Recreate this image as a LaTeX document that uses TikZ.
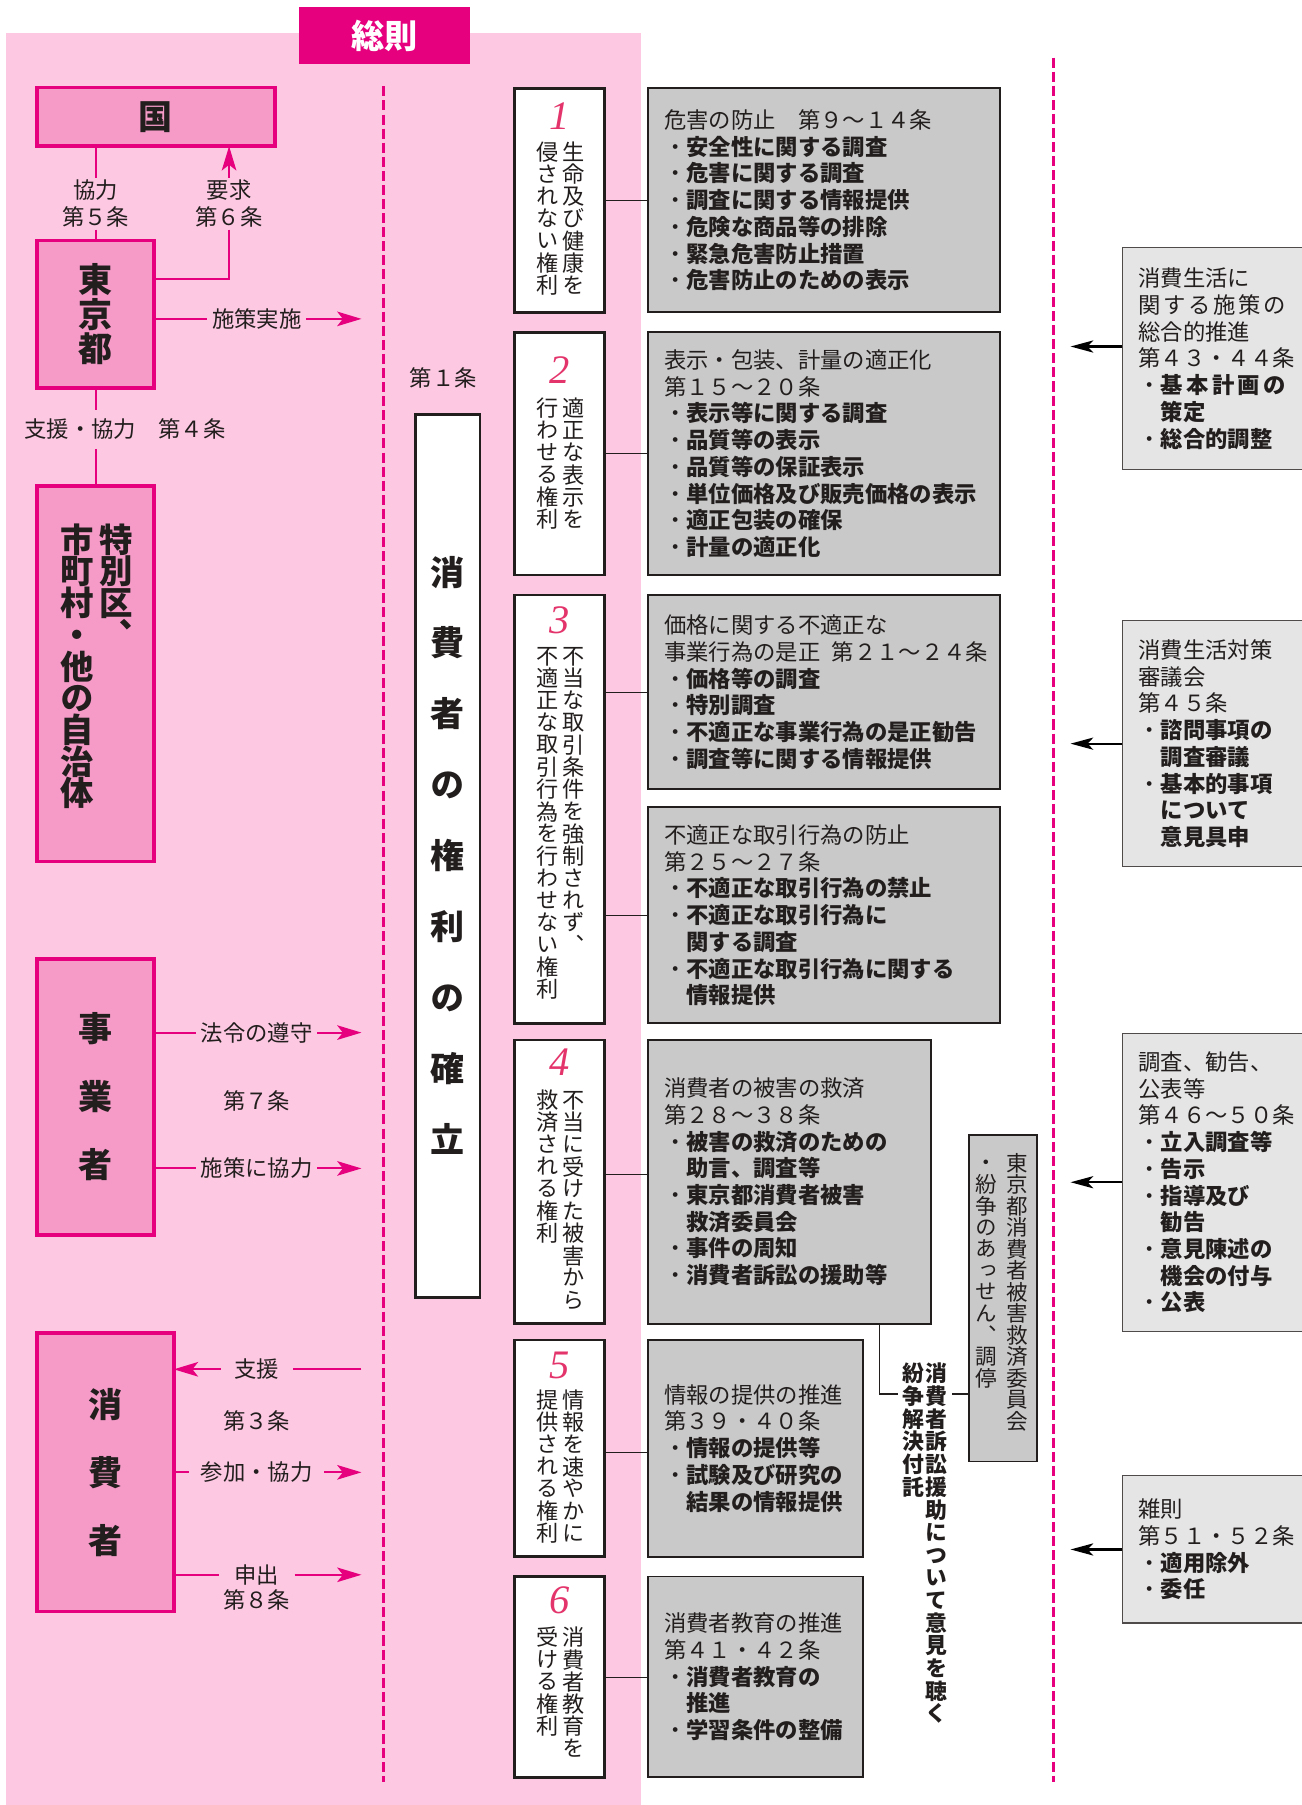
\documentclass[tikz,border=0pt]{standalone}
\usepackage{fontspec}
\setmainfont{Noto Sans CJK JP}
\newfontfamily\tatefont{Noto Sans CJK JP}[RawFeature=+vert]
\newfontfamily\numfont{Liberation Serif}
\usetikzlibrary{arrows.meta,positioning,calc}

\definecolor{mag}{RGB}{230,0,126}
\definecolor{bgpink}{RGB}{252,200,226}
\definecolor{boxpink}{RGB}{246,155,200}
\definecolor{gbox}{RGB}{201,201,201}
\definecolor{lbox}{RGB}{229,229,229}
\definecolor{ink}{RGB}{35,30,30}
\definecolor{numred}{RGB}{228,52,108}

\newcommand\upx{0.025cm}
\newcommand\bodyfont{\fontsize{13.8pt}{16.5pt}\selectfont}
\newdimen\tstep
\def\tateloop#1{\ifx\relax#1\else\vbox to\tstep{\vss\hbox to1em{\hss\vphantom{国}#1\hss}\vss}\expandafter\tateloop\fi}
\newcommand\tcol[1]{\vtop{\offinterlineskip\expandafter\tateloop#1\relax}}
\newcommand\tateone[2]{\tstep=#1\relax\tcol{#2}}
\newcommand\tatetwo[4]{\tstep=#1\relax\tcol{#2}\hspace{#3}\tcol{#4}}
\newcommand\spread[2]{\makebox[#1][s]{#2}}

\tikzset{
  every node/.style={outer sep=0pt},
  pinkbox/.style={draw=mag, fill=boxpink, line width=2.2pt, anchor=north west, inner sep=0pt, text=ink,
    font=\tatefont\bfseries\fontsize{21pt}{21pt}\selectfont},
  rightbox/.style={draw=ink, fill=white, line width=1.6pt, anchor=north west, minimum width=78*\upx},
  graybox/.style={draw=ink, fill=gbox, line width=1.2pt, anchor=north west, align=left, text=ink,
    inner xsep=0.35cm, inner ysep=0pt, font=\bodyfont},
  litebox/.style={draw=ink!80, fill=lbox, line width=0.8pt, anchor=north west, align=left, text=ink,
    inner xsep=0.35cm, inner ysep=0pt, font=\bodyfont, text width=3.675cm},
  lbl/.style={font=\bodyfont, text=ink, inner xsep=0.1cm, inner ysep=0.05cm},
  tate/.style={anchor=north, inner sep=0pt, text=ink},
  num/.style={font=\numfont\itshape\fontsize{25pt}{25pt}\selectfont, text=numred, inner sep=0pt},
  pline/.style={draw=mag, line width=1.2pt},
  parrow/.style={pline, -{Stealth[length=15pt,width=9pt,inset=3.5pt]}},
  barrow/.style={draw=black, line width=1.4pt, -{Stealth[length=14pt,width=7.5pt,inset=3.5pt]}},
  conn/.style={draw=ink, line width=0.8pt},
  dashline/.style={draw=mag, line width=1.7pt, dash pattern=on 6.2pt off 2.5pt},
}

\begin{document}
\begin{tikzpicture}[x=\upx, y=-\upx]
\useasboundingbox (0,0) rectangle (1131,1568);
\clip (0,0) rectangle (1131,1568);

\fill[bgpink] (5,29) rectangle (557,1568);
\node[fill=mag, anchor=north west, minimum width=148*\upx, minimum height=50*\upx, text=white,
  font=\bfseries\fontsize{20.5pt}{20.5pt}\selectfont] (soku) at (260,6) {総則};

\draw[dashline] (333,75) -- (333,1548);
\draw[dashline] (915,50) -- (915,1548);

% left column
\node[pinkbox, minimum width=207*\upx, minimum height=51*\upx] (kuni) at (32,76) {国};
\node[pinkbox, minimum width=102*\upx, minimum height=128*\upx] (tokyo) at (32,209) {\tateone{0.7425cm}{東京都}};
\node[pinkbox, minimum width=102*\upx, minimum height=326.5*\upx] (tokubetsu) at (32,422) {};
\node[tate, font=\tatefont\bfseries\fontsize{20.6pt}{20.6pt}\selectfont] (tokubetsuT) at (84.25,455.25)
  {\tatetwo{0.6875cm}{市町村・他の自治体}{0.13cm}{特別区、}};
\node[pinkbox, minimum width=102*\upx, minimum height=240*\upx] (jigyo) at (32,833) {\tateone{1.475cm}{事業者}};
\node[pinkbox, minimum width=119*\upx, minimum height=242*\upx] (shohi) at (32,1158) {\tateone{1.475cm}{消費者}};

\node[lbl, align=center] (l5) at (83,177) {協力\\第５条};
\node[lbl, align=center] (l6) at (199,177) {要求\\第６条};
\draw[pline] (kuni.south -| l5) -- (l5.north);
\draw[pline] (l5.south) -- (tokyo.north);
\draw[parrow] (l6.north) -- (kuni.south -| l6);
\draw[pline] (l6.south) |- (tokyo.east |- 0,242);

\node[lbl] (lshisaku) at (223,277) {施策実施};
\node[lbl, inner ysep=0.2cm] (l4) at (108.5,373) {支援・協力　第４条};
\draw[pline] (tokyo.south) -- (tokyo.south |- l4.north);
\draw[pline] (tokyo.south |- l4.south) -- (tokubetsu.north);

\node[lbl] (lhourei) at (223,897) {法令の遵守};
\node[lbl] (ldai7) at (223,956) {第７条};
\node[lbl] (lsesaku) at (223,1015) {施策に協力};

\node[lbl, inner xsep=0.3cm] (lshien) at (223,1189.5) {支援};
\node[lbl] (ldai3) at (223,1234) {第３条};
\node[lbl, inner xsep=0.25cm] (lsanka) at (223,1279) {参加・協力};
\node[lbl, inner xsep=0.34cm] (lmoushide) at (223,1368) {申出};
\node[lbl] (ldai8) at (223,1390) {第８条};

\foreach \b/\l in {tokyo/lshisaku, jigyo/lhourei, jigyo/lsesaku, shohi/lsanka, shohi/lmoushide}
{
  \path (\l -| 314,0) coordinate (t\l);
  \draw[pline] (\b.east |- \l) -- (\l.west);
  \draw[parrow] (\l.east) -- (t\l);
}
\path (lshien -| 314,0) coordinate (tshien);
\draw[pline] (tshien) -- (lshien.east);
\draw[parrow] (lshien.west) -- (shohi.east |- lshien);

% middle column
\node[lbl] (dai1) at (385,328) {第１条};
\node[draw=ink, fill=white, line width=1.6pt, anchor=north west, minimum width=56*\upx, minimum height=767*\upx,
  inner sep=0pt, text=ink, font=\tatefont\bfseries\fontsize{21pt}{21pt}\selectfont] (kenri) at (361,360)
  {\tateone{1.54cm}{消費者の権利の確立}};

\foreach \i/\y/\h/\ny/\ty/\lc/\rc in {
  1/76.7/194.6/101/122.4/侵されない権利/生命及び健康を,
  2/288.7/210.8/321.4/345/行わせる権利/適正な表示を,
  3/517/372/538.6/560.3/不適正な取引行為を行わせない権利/不当な取引条件を強制されず、,
  4/903.4/246.4/923/946/救済される権利/不当に受けた被害から,
  5/1164/188.2/1186/1206.5/提供される権利/情報を速やかに,
  6/1369.5/174.5/1390/1412.8/受ける権利/消費者教育を}
{
  \node[rightbox, minimum height=\h*\upx] (r\i) at (447,\y) {};
  \node[num] (n\i) at (486,\ny) {\i};
  \node[tate, font=\tatefont\fontsize{13.7pt}{13.7pt}\selectfont] (rt\i) at (487,\ty)
    {\tatetwo{0.4825cm}{\lc}{0.08cm}{\rc}};
}

\node[graybox, text width=6.95cm, minimum height=194.6*\upx] (gA) at (563,76.7)
  {危害の防止　第９～１４条\\・\textbf{安全性に関する調査}\\・\textbf{危害に関する調査}\\
   ・\textbf{調査に関する情報提供}\\・\textbf{危険な商品等の排除}\\・\textbf{緊急危害防止措置}\\
   ・\textbf{危害防止のための表示}};
\node[graybox, text width=6.95cm, minimum height=210.8*\upx] (gB) at (563,288.7)
  {表示・包装、計量の適正化\\第１５～２０条\\・\textbf{表示等に関する調査}\\・\textbf{品質等の表示}\\
   ・\textbf{品質等の保証表示}\\・\textbf{単位価格及び販売価格の表示}\\・\textbf{適正包装の確保}\\
   ・\textbf{計量の適正化}};
\node[graybox, text width=6.95cm, minimum height=168.7*\upx] (gC) at (563,517)
  {価格に関する不適正な\\事業行為の是正\kern.5em第２１～２４条\\・\textbf{価格等の調査}\\・\textbf{特別調査}\\
   ・\textbf{不適正な事業行為の是正勧告}\\・\textbf{調査等に関する情報提供}};
\node[graybox, text width=6.95cm, minimum height=187.7*\upx] (gD) at (563,701.3)
  {不適正な取引行為の防止\\第２５～２７条\\・\textbf{不適正な取引行為の禁止}\\・\textbf{不適正な取引行為に}\\
   \hspace*{1em}\textbf{関する調査}\\・\textbf{不適正な取引行為に関する}\\\hspace*{1em}\textbf{情報提供}};
\node[graybox, text width=5.45cm, minimum height=246.4*\upx] (gE) at (563,903.4)
  {消費者の被害の救済\\第２８～３８条\\・\textbf{被害の救済のための}\\\hspace*{1em}\textbf{助言、調査等}\\
   ・\textbf{東京都消費者被害}\\\hspace*{1em}\textbf{救済委員会}\\・\textbf{事件の周知}\\・\textbf{消費者訴訟の援助等}};
\node[graybox, text width=3.975cm, minimum height=188.2*\upx] (gF) at (563,1164)
  {情報の提供の推進\\第３９・４０条\\・\textbf{情報の提供等}\\・\textbf{試験及び研究の}\\\hspace*{1em}\textbf{結果の情報提供}};
\node[graybox, text width=3.975cm, minimum height=174.5*\upx] (gG) at (563,1369.5)
  {消費者教育の推進\\第４１・４２条\\・\textbf{消費者教育の}\\\hspace*{1em}\textbf{推進}\\・\textbf{学習条件の整備}};

\foreach \a/\b/\y in {r1/gA/174, r2/gB/394, r3/gC/601.5, r3/gD/795, r4/gE/1020, r5/gF/1262, r6/gG/1457}
  \draw[conn] (\a.east |- 0,\y) -- (\b.west |- 0,\y);

% committee
\node[draw=ink, fill=gbox, line width=1.2pt, anchor=north west, minimum width=58.5*\upx, minimum height=284*\upx]
  (iinkai) at (842,985.6) {};
\node[tate, font=\tatefont\fontsize{13.3pt}{13.3pt}\selectfont] (iinkaiT) at (870,1001)
  {\tatetwo{0.4675cm}{・紛争のあっせん、調停}{0.2cm}{東京都消費者被害救済委員会}};
\node[tate, inner xsep=0.1cm, font=\tatefont\bfseries\fontsize{13.5pt}{13.5pt}\selectfont] (soshou) at (803.5,1183.4)
  {\tatetwo{0.4925cm}{紛争解決付託}{0.03cm}{消費者訴訟援助について意見を聴く}};
\draw[conn] (gE.south -| 764,0) |- (soshou.west |- 0,1211);
\draw[conn] (soshou.east |- 0,1211) -- (iinkai.west |- 0,1211);

% right column
\node[litebox, minimum height=193*\upx] (R1) at (975,215)
  {消費生活に\\\spread{6.6em}{関\hfill す\hfill る\hfill 施\hfill 策\hfill の}\\総合的推進\\第４３・４４条\\
   \spread{6.6em}{・\textbf{基\hfill 本\hfill 計\hfill 画\hfill の}}\\\hspace*{1em}\textbf{策定}\\・\textbf{総合的調整}};
\node[litebox, minimum height=214*\upx] (R2) at (975,539)
  {消費生活対策\\審議会\\第４５条\\・\textbf{諮問事項の}\\\hspace*{1em}\textbf{調査審議}\\・\textbf{基本的事項}\\
   \hspace*{1em}\textbf{について}\\\hspace*{1em}\textbf{意見具申}};
\node[litebox, minimum height=259*\upx] (R3) at (975,897.7)
  {調査、勧告、\\公表等\\第４６～５０条\\・\textbf{立入調査等}\\・\textbf{告示}\\・\textbf{指導及び}\\
   \hspace*{1em}\textbf{勧告}\\・\textbf{意見陳述の}\\\hspace*{1em}\textbf{機会の付与}\\・\textbf{公表}};
\node[litebox, minimum height=128*\upx] (R4) at (975,1282)
  {雑則\\第５１・５２条\\・\textbf{適用除外}\\・\textbf{委任}};

\foreach \n/\y in {R1/301, R2/646, R3/1027, R4/1346}
{
  \coordinate (t\n) at (930,\y);
  \draw[barrow] (\n.west |- 0,\y) -- (t\n);
}
\end{tikzpicture}
\end{document}
